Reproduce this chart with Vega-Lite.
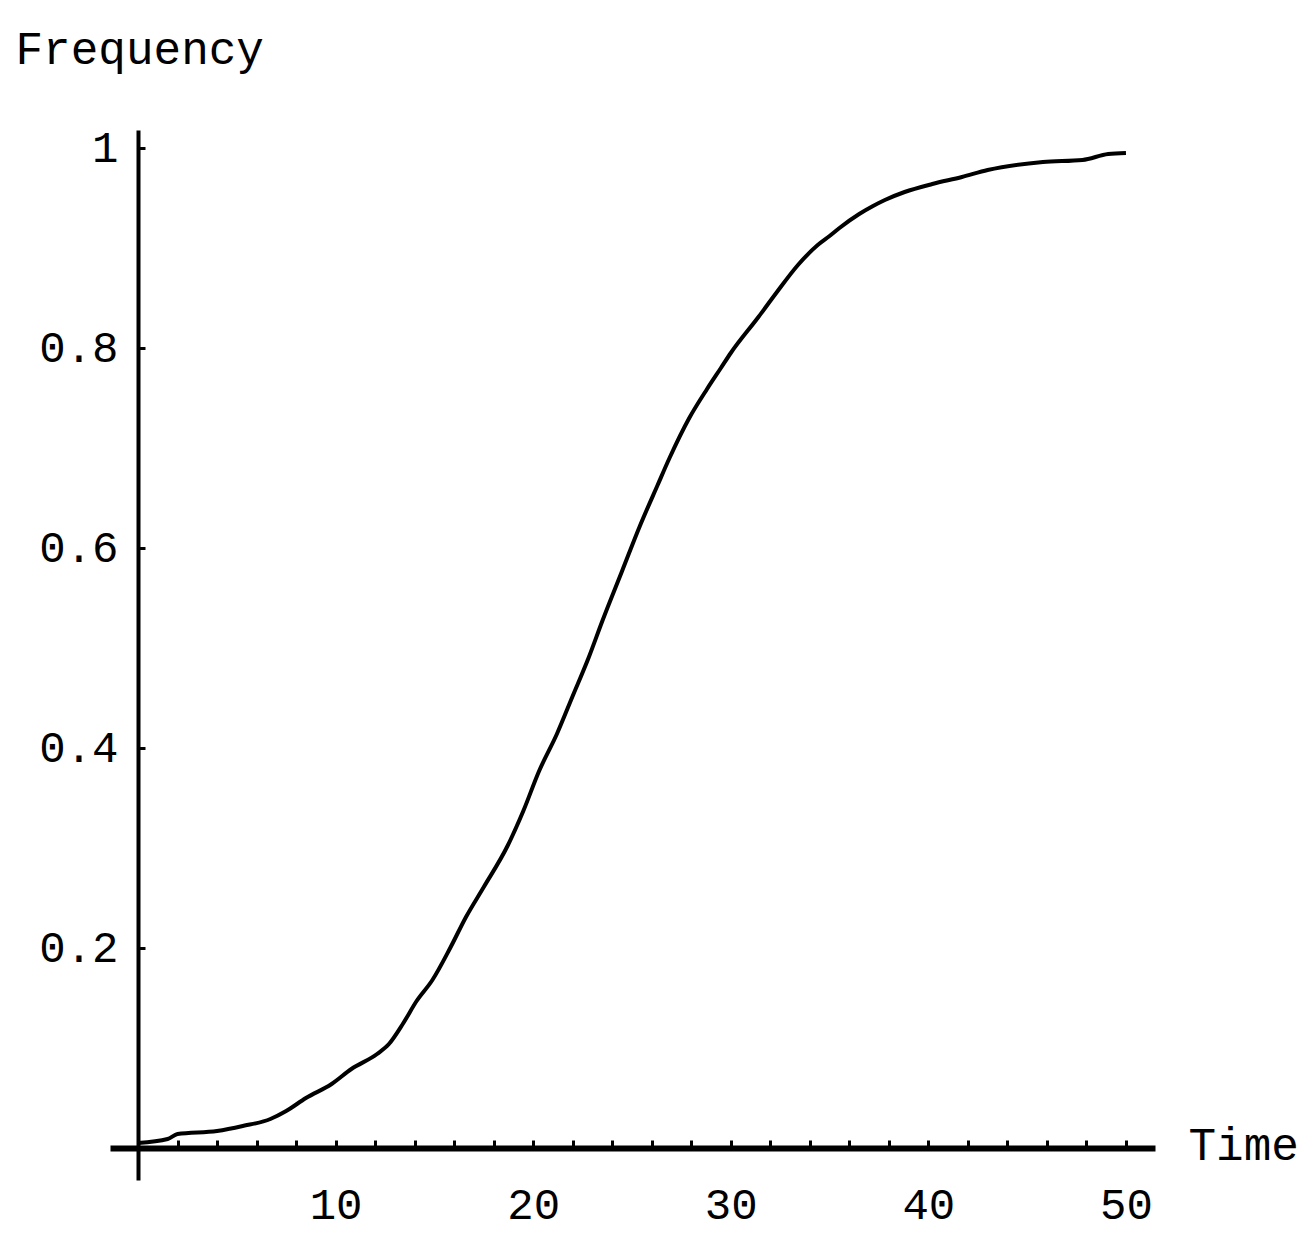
{
  "$schema": "https://vega.github.io/schema/vega-lite/v6.json",
  "width": 1045,
  "height": 1050,
  "autosize": "none",
  "padding": {"left": 110, "top": 130, "right": 153, "bottom": 59},
  "background": "white",
  "config": {
    "view": {"stroke": null},
    "font": "Liberation Mono",
    "axis": {
      "grid": false,
      "domainColor": "black",
      "tickColor": "black",
      "labelColor": "black",
      "titleColor": "black",
      "labelFont": "Liberation Mono",
      "titleFont": "Liberation Mono",
      "labelFontWeight": "normal",
      "titleFontWeight": "normal"
    }
  },
  "data": {
    "values": [
      {"t": 0, "f": 0.005},
      {"t": 1.5, "f": 0.009},
      {"t": 2, "f": 0.014},
      {"t": 4, "f": 0.017},
      {"t": 5.3, "f": 0.022},
      {"t": 6.7, "f": 0.029},
      {"t": 7.5, "f": 0.037},
      {"t": 8.5, "f": 0.05},
      {"t": 9.8, "f": 0.064},
      {"t": 10.8, "f": 0.079},
      {"t": 12.1, "f": 0.094},
      {"t": 12.7, "f": 0.104},
      {"t": 13.4, "f": 0.124},
      {"t": 14.1, "f": 0.147},
      {"t": 14.9, "f": 0.168},
      {"t": 15.8, "f": 0.2},
      {"t": 16.6, "f": 0.231},
      {"t": 17.5, "f": 0.261},
      {"t": 18.7, "f": 0.302},
      {"t": 19.5, "f": 0.337},
      {"t": 20.3, "f": 0.377},
      {"t": 21.2, "f": 0.414},
      {"t": 22.0, "f": 0.452},
      {"t": 22.8, "f": 0.49},
      {"t": 23.5, "f": 0.527},
      {"t": 24.5, "f": 0.577},
      {"t": 25.4, "f": 0.622},
      {"t": 26.3, "f": 0.663},
      {"t": 26.9, "f": 0.69},
      {"t": 27.9, "f": 0.73},
      {"t": 28.8, "f": 0.759},
      {"t": 29.5, "f": 0.78},
      {"t": 30.0, "f": 0.795},
      {"t": 31.4, "f": 0.831},
      {"t": 32.3, "f": 0.855},
      {"t": 33.4, "f": 0.883},
      {"t": 34.4, "f": 0.903},
      {"t": 35.0, "f": 0.912},
      {"t": 35.5, "f": 0.92},
      {"t": 36.5, "f": 0.934},
      {"t": 37.2, "f": 0.942},
      {"t": 37.8, "f": 0.948},
      {"t": 38.8, "f": 0.956},
      {"t": 40.2, "f": 0.964},
      {"t": 41.7, "f": 0.971},
      {"t": 43.0, "f": 0.978},
      {"t": 45.8, "f": 0.986},
      {"t": 47.8, "f": 0.988},
      {"t": 49.1, "f": 0.994},
      {"t": 50.0, "f": 0.995}
    ]
  },
  "mark": {"type": "line", "color": "black", "strokeWidth": 4, "clip": false, "interpolate": "monotone"},
  "encoding": {
    "x": {
      "field": "t",
      "type": "quantitative",
      "scale": {"domain": [-1.417, 51.47], "nice": false, "zero": false},
      "axis": {
        "orient": "bottom",
        "offset": -32,
        "values": [2, 4, 6, 8, 10, 12, 14, 16, 18, 20, 22, 24, 26, 28, 30, 32, 34, 36, 38, 40, 42, 44, 46, 48, 50],
        "labelExpr": "datum.value % 10 === 0 ? datum.label : ''",
        "domainWidth": 6,
        "tickWidth": 3,
        "tickSize": -8,
        "labelPadding": 43,
        "labelFontSize": 44,
        "labelBaseline": "top",
        "title": "Time",
        "titleFontSize": 46,
        "titleAngle": 0,
        "titleAlign": "left",
        "titleBaseline": "middle",
        "titleX": 1078,
        "titleY": -3
      }
    },
    "y": {
      "field": "f",
      "type": "quantitative",
      "scale": {"domain": [-0.032, 1.018], "nice": false, "zero": false},
      "axis": {
        "orient": "left",
        "offset": -28,
        "values": [0.2, 0.4, 0.6, 0.8, 1],
        "labelExpr": "datum.value == 1 ? '1' : format(datum.value, '.1f')",
        "domainWidth": 4,
        "tickWidth": 3,
        "tickSize": -7,
        "labelPadding": 27,
        "labelFontSize": 44,
        "title": "Frequency",
        "titleFontSize": 46,
        "titleAngle": 0,
        "titleAlign": "left",
        "titleBaseline": "alphabetic",
        "titleX": -123,
        "titleY": -67
      }
    }
  }
}
